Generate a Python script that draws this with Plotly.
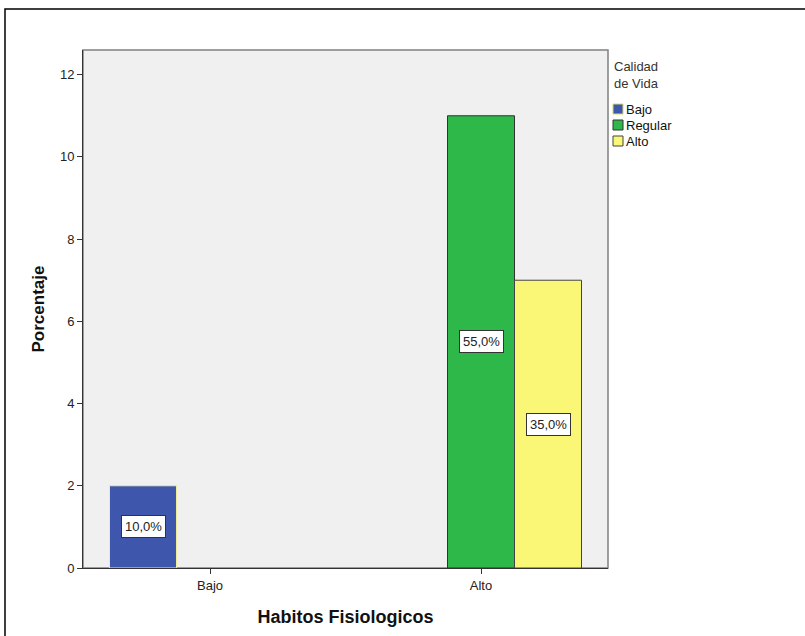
import plotly.graph_objects as go

# Data: counts of cases by physiological habits and quality-of-life level
habitos = ["Bajo", "Alto"]
calidad = ["Bajo", "Regular", "Alto"]
conteos = {
    "Bajo": [2, 0],
    "Regular": [0, 11],
    "Alto": [0, 7],
}
colores = {"Bajo": "#3E56AB", "Regular": "#2FB84A", "Alto": "#FBF776"}
bordes = {"Bajo": "#EDED9A", "Regular": "#333333", "Alto": "#444444"}

total = sum(sum(v) for v in conteos.values())

W, H = 805, 636
ML, MR, MT, MB = 83, 197, 50, 68
plot_w = W - ML - MR
BAR_PX = 67  # pixel width of a single bar
FONT = "Arial"

fig = go.Figure()
for serie in calidad:
    # empty cells are left out so that no outline is drawn at zero
    valores = [v if v > 0 else None for v in conteos[serie]]
    fig.add_trace(go.Bar(
        x=habitos, y=valores, name=serie,
        marker=dict(color=colores[serie], line=dict(color=bordes[serie], width=1)),
        showlegend=False,
    ))

# Percentage labels in white boxes at mid-height of every non-empty bar
annotations = []
for i, serie in enumerate(calidad):
    for cat, val in zip(habitos, conteos[serie]):
        if val <= 0:
            continue
        pct = val / total * 100
        annotations.append(dict(
            x=cat, y=val / 2, xref="x", yref="y",
            text=f"{pct:.1f}%".replace(".", ","),
            showarrow=False, xshift=(i - 1) * BAR_PX,
            font=dict(family=FONT, size=13, color="#222222"),
            bgcolor="white", bordercolor="#333333", borderwidth=1, borderpad=3,
        ))

# Legend drawn by hand: title, colour boxes and labels to the right of the plot
annotations.append(dict(
    x=1, xref="paper", xanchor="left", xshift=4,
    y=1, yref="paper", yanchor="top", yshift=-7,
    text="Calidad<br>de Vida", align="left", showarrow=False,
    font=dict(family=FONT, size=13, color="#333333"),
))
shapes = []
for i, serie in enumerate(calidad):
    top = -54 - i * 16
    shapes.append(dict(
        type="rect", xref="paper", yref="paper",
        xsizemode="pixel", ysizemode="pixel", xanchor=1, yanchor=1,
        x0=5, x1=15, y0=top - 10, y1=top,
        fillcolor=colores[serie],
        line=dict(color=bordes[serie] if serie != "Bajo" else "#D8D870", width=1),
    ))
    annotations.append(dict(
        x=1, xref="paper", xanchor="left", xshift=16,
        y=1, yref="paper", yanchor="middle", yshift=top - 5,
        text=serie, showarrow=False,
        font=dict(family=FONT, size=13, color="#111111"),
    ))

# Plot area border and outer frame
shapes.append(dict(type="rect", xref="paper", yref="paper", x0=0, x1=1, y0=0, y1=1,
                   line=dict(color="#808080", width=1.5), layer="below"))
shapes.append(dict(type="rect", xref="paper", yref="paper",
                   x0=(5 - ML) / plot_w, x1=1.5,
                   y0=-0.3, y1=(H - MB - 9) / (H - MT - MB),
                   line=dict(color="black", width=1.5)))

n_cat = len(habitos)
step_px = (plot_w - 2 * 127) / (n_cat - 1)
pad = 127 / step_px

fig.update_layout(
    width=W, height=H,
    margin=dict(l=ML, r=MR, t=MT, b=MB),
    paper_bgcolor="white", plot_bgcolor="#F0F0F0",
    barmode="group", bargap=1 - 3 * BAR_PX / step_px, bargroupgap=0,
    font=dict(family=FONT, size=13, color="#222222"),
    annotations=annotations, shapes=shapes,
    xaxis=dict(
        range=[-pad, n_cat - 1 + pad], showgrid=False, zeroline=False,
        showline=True, linecolor="#333333", linewidth=1,
        ticks="outside", ticklen=5, tickcolor="#333333",
        tickfont=dict(family=FONT, size=13, color="#222222"),
        title=dict(text="<b>Habitos Fisiologicos</b>", standoff=18,
                   font=dict(family=FONT, size=18, color="#111111")),
    ),
    yaxis=dict(
        range=[0, 12.6], dtick=2, showgrid=False, zeroline=False,
        showline=True, linecolor="#333333", linewidth=1,
        ticks="outside", ticklen=5, tickcolor="#333333",
        tickfont=dict(family=FONT, size=13, color="#222222"),
        title=dict(text="<b>Porcentaje</b>", standoff=10,
                   font=dict(family=FONT, size=17, color="#111111")),
    ),
)

fig.write_html("out.html")
